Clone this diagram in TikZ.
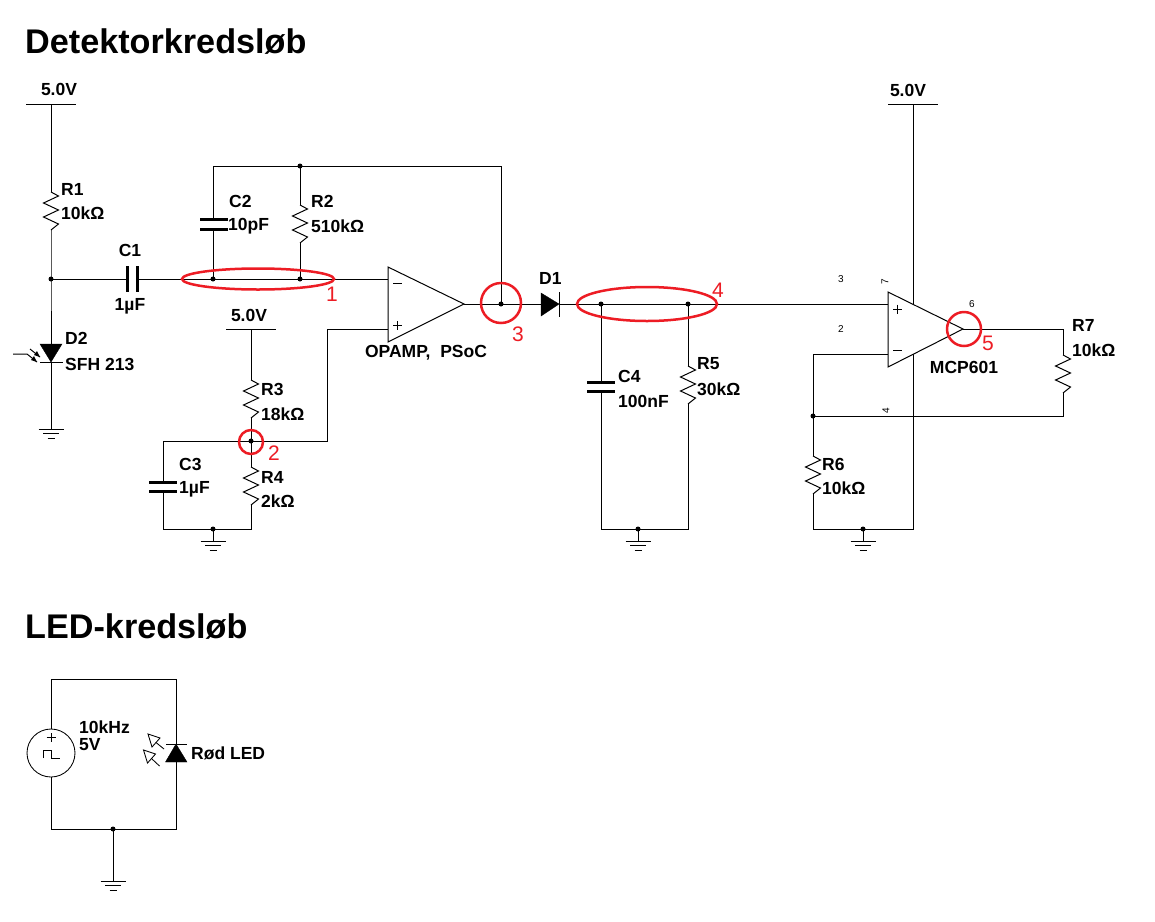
\documentclass[tikz,border=0pt]{standalone}
\usepackage{fontspec}
\setmainfont{Liberation Sans}
\usetikzlibrary{calc}
\definecolor{mark}{RGB}{237,28,36}
\tikzset{
  x=1pt,y=-1pt,
  wire/.style={draw=black,line width=1pt,line join=miter},
  plate/.style={draw=black,line width=3pt},
  thin sym/.style={draw=black,line width=.85pt},
  dotn/.style={circle,fill=black,inner sep=0pt,minimum size=5pt},
  lab/.style={inner sep=0pt,anchor=west,font=\fontsize{17.5}{19}\selectfont\bfseries},
  labc/.style={inner sep=0pt,anchor=center,font=\fontsize{17.5}{19}\selectfont\bfseries},
  title/.style={inner sep=0pt,anchor=west,font=\fontsize{34.2}{38}\selectfont\bfseries},
  pin/.style={inner sep=0pt,anchor=center,font=\fontsize{10}{11}\selectfont},
  rednum/.style={inner sep=0pt,anchor=center,text=mark,font=\fontsize{21}{22}\selectfont},
  redloop/.style={draw=mark,line width=2.5pt,fill=none},
  amp/.style={draw=black,line width=1pt,fill=white},
}
% vertical resistor: name, x, ytop
\newcommand{\vres}[3]{%
  \coordinate (#1t) at (#2,#3);\coordinate (#1b) at (#2,#3+38);
  \draw[wire] (#1t) -- ++(7.5,4) -- ++(-15,7) -- ++(15,7) -- ++(-15,7) -- ++(15,7) -- (#1b);}
% ground symbol: name, x, y of first bar
\newcommand{\gnd}[3]{%
  \coordinate (#1) at (#2,#3);
  \draw[wire] (#2-12.5,#3) -- (#2+12.5,#3);
  \draw[wire] (#2-8,#3+4.5) -- (#2+8,#3+4.5);
  \draw[wire] (#2-3.5,#3+9) -- (#2+3.5,#3+9);}
% supply bar: name, x, y
\newcommand{\vcc}[3]{%
  \coordinate (#1) at (#2,#3);
  \draw[wire] (#2-25,#3) -- (#2+25,#3);}
\begin{document}
\begin{tikzpicture}
\useasboundingbox[fill=white] (0,0) rectangle (1155,921);
% Titles
\node[title] (t1) at (25,42) {Detektorkredsløb};
\node[title] (t2) at (25,627) {LED-kredsløb};

% junction points
\coordinate (j1) at (51,279);
\coordinate (j2) at (213,279);
\coordinate (j3) at (300,279);
\coordinate (j4) at (300,166);
\coordinate (j5) at (501,304);
\coordinate (j6) at (251,441);
\coordinate (j7) at (213,529);
\coordinate (j8) at (601,304);
\coordinate (j9) at (688,304);
\coordinate (j10) at (638,529);
\coordinate (j11) at (813,416);
\coordinate (j12) at (863,529);
\coordinate (j13) at (113,829);

% supplies, grounds
\vcc{v1}{51}{104}
\vcc{v2}{251}{329}
\vcc{v3}{913}{104}
\gnd{g1}{51}{429}
\gnd{g2}{213}{541}
\gnd{g3}{638}{541}
\gnd{g4}{863}{541}
\gnd{g5}{113}{881}

% resistors
\vres{ra}{51}{192}
\vres{rb}{300}{205}
\vres{rc}{251}{380}
\vres{rd}{251}{467}
\vres{re}{688}{366}
\vres{rf}{813}{456}
\vres{rg}{1063}{355}

% R1 branch and D2
\coordinate (d2t) at (51,344);
\coordinate (d2b) at (51,362);
\draw[wire] (v1) -- (rat);
\draw[wire] (rab) -- (j1) -- (d2t);
\draw[wire] (d2b) -- (g1);
\draw[fill=black,draw=black] (40,344) -- (62,344) -- (d2b) -- cycle;
\draw[wire] (40,362) -- (63,362);
% light arrows on D2
\coordinate (la1) at (13,354);
\coordinate (la2) at (27,354);
\coordinate (la3) at (37,362);
\draw[wire] (la1) -- (la2) -- (la3);
\fill (37,362) -- (31,360) -- (34,356) -- cycle;
\draw[wire] (30,349) -- (40,357);
\fill (40,357) -- (34,355) -- (37,351) -- cycle;

% C1 and input net
\coordinate (c1l) at (127.5,279);
\coordinate (c1r) at (137,279);
\coordinate (op1m) at (388,279);
\draw[wire] (j1) -- (c1l);
\draw[wire] (c1r) -- (op1m);
\draw[plate] (127.5,266) -- (127.5,292);
\draw[plate] (137,266) -- (137,292);

% C2, R2, feedback
\coordinate (c2a) at (213,219);
\coordinate (c2b) at (213,229);
\coordinate (fb1) at (213,166);
\coordinate (fb2) at (501,166);
\draw[wire] (j2) -- (c2b);
\draw[wire] (c2a) -- (fb1) -- (fb2) -- (j5);
\draw[plate] (200,219) -- (228,219);
\draw[plate] (200,229) -- (228,229);
\draw[wire] (j3) -- (rbb);
\draw[wire] (rbt) -- (j4);

% Bias network
\coordinate (op1p) at (388,329);
\coordinate (bw1) at (327,441);
\coordinate (bw2) at (327,329);
\coordinate (c3t) at (163,441);
\coordinate (c3a) at (163,482);
\coordinate (c3b) at (163,491);
\coordinate (c3g) at (163,529);
\coordinate (r4g) at (251,529);
\draw[wire] (v2) -- (rct);
\draw[wire] (rcb) -- (rdt);
\draw[wire] (j6) -- (bw1) -- (bw2) -- (op1p);
\draw[wire] (j6) -- (c3t) -- (c3a);
\draw[wire] (c3b) -- (c3g) -- (r4g) -- (rdb);
\draw[plate] (149,482) -- (177,482);
\draw[plate] (149,491) -- (177,491);
\draw[wire] (j7) -- (g2);

% Op amp 1
\coordinate (op1o) at (464,304);
\coordinate (d1a) at (541,304);
\coordinate (d1k) at (559,304);
\coordinate (op2p) at (888,304);
\draw[wire] (op1o) -- (d1a);
\draw[amp] (388,267) -- (op1o) -- (388,342) -- cycle;
\draw[thin sym] (393,283) -- (402,283);
\draw[thin sym] (393,325.5) -- (402,325.5) (397.5,321) -- (397.5,330);
\draw[fill=black,draw=black] (541,293) -- (541,316) -- (d1k) -- cycle;
\draw[wire] (559,292) -- (559,317);
\draw[wire] (d1k) -- (op2p);

% C4, R5
\coordinate (c4a) at (601,382);
\coordinate (c4b) at (601,391);
\coordinate (c4g) at (601,529);
\coordinate (r5g) at (688,529);
\draw[wire] (j8) -- (c4a);
\draw[wire] (c4b) -- (c4g) -- (r5g) -- (reb);
\draw[wire] (ret) -- (j9);
\draw[plate] (587,382) -- (615,382);
\draw[plate] (587,391) -- (615,391);
\draw[wire] (j10) -- (g3);

% Op amp 2
\coordinate (op2m) at (888,354);
\coordinate (op2o) at (963,329);
\coordinate (fbm) at (813,354);
\coordinate (r7t) at (1063,329);
\coordinate (r7b) at (1063,416);
\coordinate (gnw) at (813,529);
\coordinate (gne) at (913,529);
\draw[wire] (op2m) -- (fbm) -- (rft);
\draw[wire] (rfb) -- (gnw) -- (gne) -- (v3);
\draw[wire] (j11) -- (r7b) -- (rgb);
\draw[wire] (op2o) -- (r7t) -- (rgt);
\draw[wire] (j12) -- (g4);
\draw[amp] (888,292) -- (op2o) -- (888,367) -- cycle;
\draw[thin sym] (893,309) -- (902,309) (897.5,304.5) -- (897.5,313.5);
\draw[thin sym] (893,350) -- (902,350);

% LED circuit
\coordinate (lc1) at (51,679);
\coordinate (lc2) at (176,679);
\coordinate (lc3) at (176,829);
\coordinate (lc4) at (51,829);
\coordinate (ledt) at (176,744);
\coordinate (ledb) at (176,762);
\node[circle,draw=black,line width=.85pt,fill=white,minimum size=48pt,inner sep=0pt] (src) at (51,753) {};
\draw[wire] (src.north) -- (lc1) -- (lc2) -- (ledt);
\draw[wire] (ledb) -- (lc3) -- (lc4) -- (src.south);
\draw[wire] (j13) -- (g5);
\draw[thin sym] (46.5,737.5) -- (55.5,737.5) (51,733) -- (51,742);
\draw[thin sym] (43,758) -- (43,750.5) -- (51.5,750.5) -- (51.5,758) -- (60,758);
\draw[fill=black,draw=black] (165.5,762) -- (187,762) -- (ledt) -- cycle;
\draw[wire] (166,744) -- (187,744);
\draw[thin sym] (148,734) -- (160,738) -- (152,747) -- cycle;
\draw[thin sym] (156,742.5) -- (164,749);
\draw[thin sym] (143.5,750) -- (155.5,754) -- (147.5,763) -- cycle;
\draw[thin sym] (151.5,758.5) -- (159.5,766);

% junction dots, over the wires
\node[dotn] (d1) at (j1) {};
\node[dotn] (d2) at (j2) {};
\node[dotn] (d3) at (j3) {};
\node[dotn] (d4) at (j4) {};
\node[dotn] (d5) at (j5) {};
\node[dotn] (d6) at (j6) {};
\node[dotn] (d7) at (j7) {};
\node[dotn] (d8) at (j8) {};
\node[dotn] (d9) at (j9) {};
\node[dotn] (d10) at (j10) {};
\node[dotn] (d11) at (j11) {};
\node[dotn] (d12) at (j12) {};
\node[dotn] (d13) at (j13) {};

% Component labels
\node[labc] (l1) at (59,89) {5.0V};
\node[lab] (l2) at (61,189) {R1};
\node[lab] (l3) at (61,213) {10kΩ};
\node[labc] (l4) at (130,250) {C1};
\node[labc] (l5) at (130,306) {1µF};
\node[lab] (l6) at (229,201) {C2};
\node[lab] (l7) at (228,226) {10pF};
\node[lab] (l8) at (311,201) {R2};
\node[lab] (l9) at (311,226) {510kΩ};
\node[lab] (l10) at (65,338) {D2};
\node[lab] (l11) at (65,364) {SFH 213};
\node[labc] (l12) at (249,315) {5.0V};
\node[lab] (l13) at (261,389) {R3};
\node[lab] (l14) at (261,414) {18kΩ};
\node[lab] (l15) at (261,477) {R4};
\node[lab] (l16) at (261,501) {2kΩ};
\node[lab] (l17) at (179,464) {C3};
\node[lab] (l18) at (179,489) {1µF};
\node[labc] (l19) at (426,353) {OPAMP,\ \ PSoC};
\node[lab] (l20) at (539,278) {D1};
\node[lab] (l21) at (618,376) {C4};
\node[lab] (l22) at (618,401) {100nF};
\node[lab] (l23) at (697,364) {R5};
\node[lab] (l24) at (697,389) {30kΩ};
\node[labc] (l25) at (908,90) {5.0V};
\node[labc] (l26) at (964,367) {MCP601};
\node[lab] (l27) at (822,464) {R6};
\node[lab] (l28) at (822,488) {10kΩ};
\node[lab] (l29) at (1072,325) {R7};
\node[lab] (l30) at (1072,350) {10kΩ};
\node[lab] (l31) at (79,727) {10kHz};
\node[lab] (l32) at (79,745) {5V};
\node[lab] (l33) at (191,753) {Rød LED};

% Pin numbers
\node[pin] (p3) at (841,279) {3};
\node[pin] (p2) at (841,329) {2};
\node[pin,rotate=90] (p7) at (885,282) {7};
\node[pin] (p6) at (972,304) {6};
\node[pin,rotate=90] (p4) at (886,411) {4};

% Red markings
\draw[redloop] (258,279) ellipse [x radius=76,y radius=10.5];
\draw[redloop] (251,442) circle [radius=12];
\draw[redloop] (501,303) circle [radius=20];
\draw[redloop] (647,304) ellipse [x radius=70,y radius=17];
\draw[redloop] (964,329) circle [radius=17];
\node[rednum] (n1) at (332,294) {1};
\node[rednum] (n2) at (274,453) {2};
\node[rednum] (n3) at (518,334) {3};
\node[rednum] (n4) at (718,290) {4};
\node[rednum] (n5) at (988,343) {5};
\end{tikzpicture}
\end{document}
